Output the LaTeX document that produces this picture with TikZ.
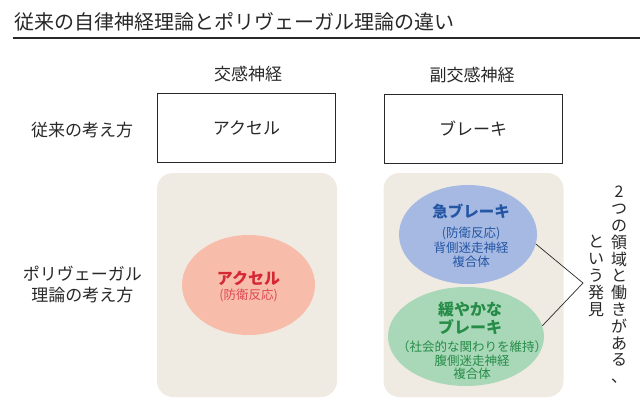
\documentclass[tikz,border=0pt]{standalone}
\usepackage{fontspec}
\setmainfont{Noto Sans CJK JP}
\usetikzlibrary{shapes.geometric, positioning, calc}
\definecolor{inkgray}{RGB}{40, 40, 40}
\definecolor{panelbeige}{RGB}{239, 235, 226}
\definecolor{accelfill}{RGB}{248, 189, 170}
\definecolor{accelred}{RGB}{214, 40, 52}
\definecolor{fastfill}{RGB}{166, 185, 226}
\definecolor{fastblue}{RGB}{36, 86, 164}
\definecolor{slowfill}{RGB}{168, 216, 184}
\definecolor{slowgreen}{RGB}{38, 140, 72}

\begin{document}
\begin{tikzpicture}[x=1pt, y=-1pt,
    txt/.style={inner sep=0pt, text=inkgray, font=\fontsize{17}{21}\selectfont, align=center},
    oldbox/.style={draw=inkgray, line width=0.9pt, minimum width=178pt, minimum height=69pt,
      inner sep=0pt, font=\fontsize{17}{21}\selectfont, text=inkgray},
    panel/.style={fill=panelbeige, rounded corners=16pt, minimum width=180pt, minimum height=224pt, inner sep=0pt},
    blob/.style={ellipse, inner sep=0pt},
    vtext/.style={inner sep=0pt, text=inkgray, font=\fontsize{16}{16.8}\selectfont, align=center}]
  \useasboundingbox (0,0) rectangle (640,402);

  \node[txt, anchor=west, font=\fontsize{20}{24}\selectfont] (title) at (14,22) {従来の自律神経理論とポリヴェーガル理論の違い};
  \draw[inkgray, line width=1.2pt] (12.5,38) -- (640,38);

  % column heads and row labels
  \node[txt] (headSym) at (248,74.5) {交感神経};
  \node[txt] (headPara) at (472,75) {副交感神経};
  \node[txt] (rowOld) at (82,130) {従来の考え方};
  \node[txt] (rowPoly) at (82.5,284.5) {ポリヴェーガル\\理論の考え方};

  \node[oldbox] (oldAccel) at (246.5,128) {アクセル};
  \node[oldbox] (oldBrake) at (473,128.5) {ブレーキ};

  \foreach \cx/\nm in {247/panelSym, 473.5/panelPara}
    \node[panel] (\nm) at (\cx,285) {};

  \node[blob, fill=accelfill, minimum width=133pt, minimum height=100pt] (ellAccel) at (248.5,285) {};
  \node[blob, fill=fastfill, minimum width=138pt, minimum height=99pt] (ellFast) at (468,234.5) {};
  \node[blob, fill=slowfill, minimum width=156pt, minimum height=99pt] (ellSlow) at (466,336.5) {};

  \node[txt, text=accelred, font=\fontsize{16}{20}\selectfont\bfseries] (accelName) at (248.5,278) {アクセル};
  \node[txt, text=accelred!85, font=\fontsize{12.5}{15}\selectfont] (accelNote) at (248.5,295) {(防衛反応)};

  \node[txt, text=fastblue, font=\fontsize{15.5}{19}\selectfont\bfseries] (fastName) at (471,211) {急ブレーキ};
  \node[txt, text=fastblue, font=\fontsize{12.5}{14.5}\selectfont] (fastNote) at (471,247.5) {(防衛反応)\\背側迷走神経\\複合体};

  \node[txt, text=slowgreen, font=\fontsize{16}{18}\selectfont\bfseries] (slowName) at (470,318) {緩やかな\\ブレーキ};
  \node[txt, text=slowgreen, font=\fontsize{12.5}{13.5}\selectfont] (slowNote) at (472,360.5) {（社会的な関わりを維持）\\腹側迷走神経\\複合体};

  % bracket and vertical note
  \coordinate (tip) at (583,283);
  \draw[inkgray, line width=0.7pt] (ellFast.-8) -- (tip) -- (ellSlow.8);
  \node[vtext] (claimA) at (619,285) {2\\つ\\の\\領\\域\\と\\働\\き\\が\\あ\\る\\、};
  \node[vtext] (claimB) at (596,276) {と\\い\\う\\発\\見};
\end{tikzpicture}
\end{document}
